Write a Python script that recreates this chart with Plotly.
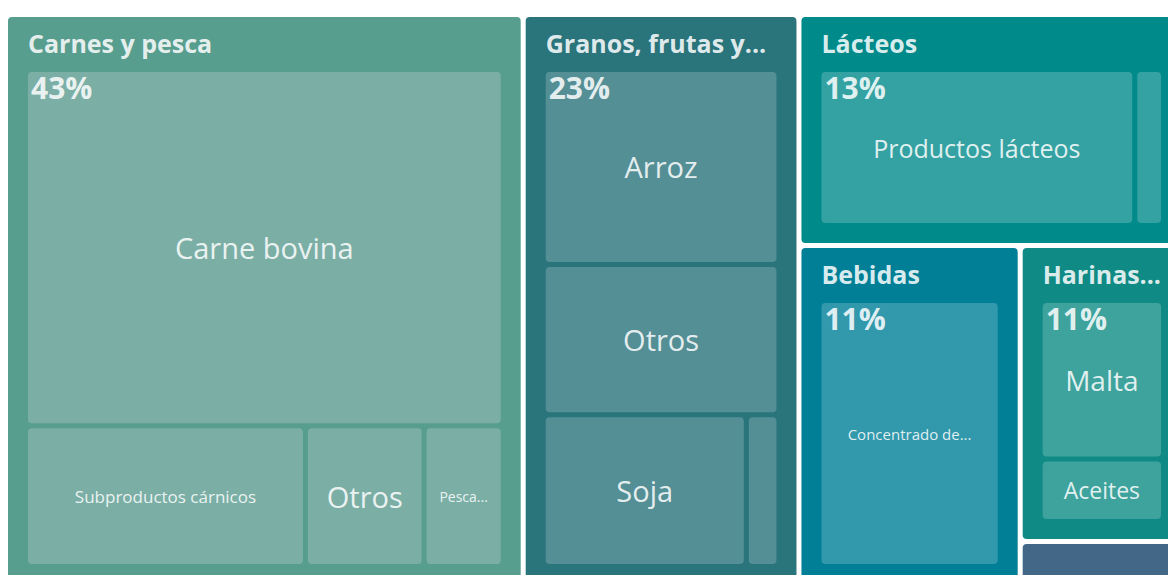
import plotly.graph_objects as go

# ---------------- data ----------------
group_names = ["Carnes y pesca", "Granos, frutas y...", "Lácteos", "Bebidas",
               "Harinas...", ""]
group_share_labels = ["43%", "23%", "13%", "11%", "11%", ""]

leaf_group = [0, 0, 0, 0, 1, 1, 1, 1, 2, 2, 3, 4, 4, 5]
leaf_labels = ["Carne bovina", "Subproductos cárnicos", "Otros", "Pesca...",
               "Arroz", "Otros", "Soja", "",
               "Productos lácteos", "",
               "Concentrado de...",
               "Malta", "Aceites",
               ""]
leaf_values = [314.9, 72.9, 30.9, 20.6,
               91.8, 70.7, 61.6, 9.9,
               120.8, 11.0,
               111.9,
               51.4, 20.3,
               10.9]

# ---------------- style ----------------
group_colors = ["#589E8F", "#2A747B", "#018A8A", "#007F96", "#0F8A84", "#436887"]
leaf_colors = ["#7BAFA6", "#558F96", "#34A2A2", "#3298AC", "#3EA39D", "#687F9A"]
leaf_font_sizes = [29, 17, 29, 14, 29, 29, 29, 10, 25, 10, 15, 28, 23, 10]
header_size = 25
share_size = 30
font_family = "Open Sans"
txt_color = "rgba(255,255,255,0.86)"
PAD = dict(t=55, l=20, r=20, b=20)

TREE_W, TREE_H = 1213, 642
OFF_SHARE, OFF_RECT, OFF_HEAD = 0, 8, 14   # px offsets from the top
FIG_W, FIG_H = TREE_W, TREE_H + OFF_HEAD


def dom(off):
    return dict(x=[0, 1], y=[(FIG_H - off - TREE_H) / FIG_H, (FIG_H - off) / FIG_H])


# ---------------- build hierarchy ----------------
ids, parents, values = [], [], []
labels_hdr, labels_blank = [], []
colors_a, text_a, text_b, sizes_a, sizes_b = [], [], [], [], []

for g, name in enumerate(group_names):
    ids.append(f"g{g}")
    parents.append("")
    labels_hdr.append(f"<b>{name}</b>" if name else "")
    labels_blank.append("")
    values.append(sum(v for v, gg in zip(leaf_values, leaf_group) if gg == g))
    colors_a.append(group_colors[g])
    text_a.append("")
    text_b.append("")
    sizes_a.append(10)
    sizes_b.append(header_size)

for g in range(len(group_names)):
    members = [i for i, gg in enumerate(leaf_group) if gg == g]
    biggest = max(members, key=lambda i: leaf_values[i])
    for i in members:
        ids.append(f"g{g}/l{i}")
        parents.append(f"g{g}")
        labels_hdr.append(leaf_labels[i])
        labels_blank.append(leaf_labels[i])
        values.append(leaf_values[i])
        colors_a.append(leaf_colors[g])
        text_a.append(leaf_labels[i])
        sizes_a.append(leaf_font_sizes[i])
        text_b.append(f"<b>{group_share_labels[g]}</b>"
                      if i == biggest and group_share_labels[g] else "")
        sizes_b.append(share_size)

n = len(ids)
common = dict(
    ids=ids, parents=parents, values=values,
    branchvalues="total", sort=True,
    tiling=dict(packing="squarify", squarifyratio=1, pad=5),
    pathbar=dict(visible=False),
    root=dict(color="rgba(0,0,0,0)"),
    texttemplate="%{text}",
)

# A: rectangles + centred leaf names
trace_a = go.Treemap(
    **common, labels=labels_blank, text=text_a,
    domain=dom(OFF_RECT),
    textposition="middle center",
    marker=dict(colors=colors_a, line=dict(width=0), cornerradius=4,
                depthfade=False, pad=PAD),
    textfont=dict(family=font_family, size=sizes_a, color=[txt_color] * n),
    insidetextfont=dict(family=font_family, size=sizes_a, color=[txt_color] * n),
    hoverinfo="skip",
)
# B: share labels at the top-left of each group's largest item
trace_b = go.Treemap(
    **common, labels=labels_blank, text=text_b,
    domain=dom(OFF_SHARE),
    textposition="top left",
    marker=dict(colors=["rgba(0,0,0,0)"] * n, line=dict(width=0), cornerradius=4,
                depthfade=False, pad=PAD),
    textfont=dict(family=font_family, size=sizes_b, color=[txt_color] * n),
    insidetextfont=dict(family=font_family, size=sizes_b, color=[txt_color] * n),
    hoverinfo="skip",
)
# C: group headers
trace_c = go.Treemap(
    **common, labels=labels_hdr, text=[""] * n,
    domain=dom(OFF_HEAD),
    textposition="top left",
    marker=dict(colors=["rgba(0,0,0,0)"] * n, line=dict(width=0), cornerradius=4,
                depthfade=False, pad=PAD),
    textfont=dict(family=font_family, size=sizes_b, color=[txt_color] * n),
    insidetextfont=dict(family=font_family, size=sizes_b, color=[txt_color] * n),
    hoverinfo="skip",
)

fig = go.Figure([trace_a, trace_b, trace_c])
fig.update_layout(
    width=FIG_W, height=FIG_H,
    margin=dict(l=0, t=0, r=0, b=0),
    paper_bgcolor="white",
    showlegend=False,
)

fig.write_html(
    "out.html",
    config={"displayModeBar": False},
    post_script=(
        "document.documentElement.style.overflow='hidden';"
        "document.body.style.margin='0';document.body.style.overflow='hidden';"
        "var gd=document.getElementsByClassName('plotly-graph-div')[0];"
        "gd.style.marginLeft='-12px';gd.style.marginTop='-46px';"
    ),
)
